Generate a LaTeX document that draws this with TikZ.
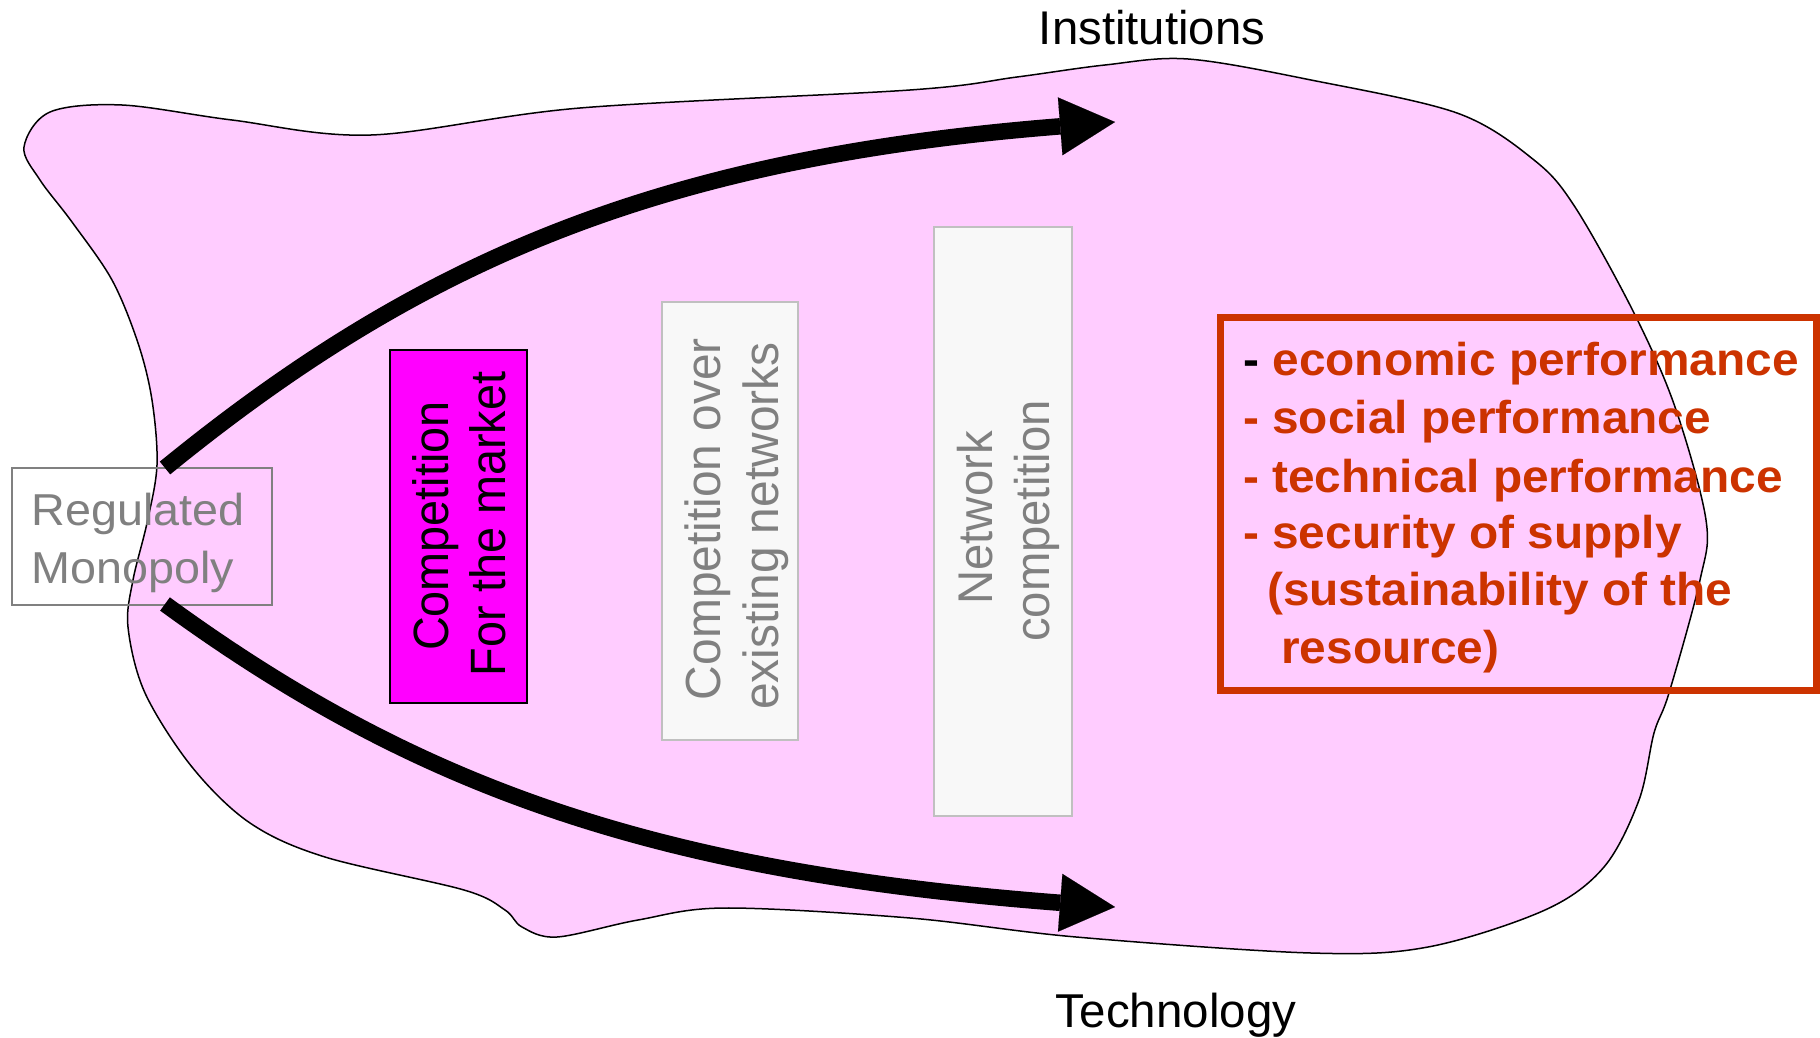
\documentclass[tikz,border=0pt]{standalone}
\usepackage{fontspec}
\usepackage{graphicx}
\setmainfont{Liberation Sans}
\usetikzlibrary{arrows.meta}
\definecolor{blobpink}{HTML}{FFCCFF}
\definecolor{boxmag}{HTML}{FF00FF}
\definecolor{lightfill}{HTML}{F8F8F8}
\definecolor{lightline}{HTML}{C0C0C0}
\definecolor{greytxt}{HTML}{808080}
\definecolor{redtxt}{HTML}{CC3300}
\newcommand{\fsz}[1]{\fontsize{#1}{#1}\selectfont}
\begin{document}
\begin{tikzpicture}[x=1pt,y=-1pt,
  bigarrow/.style={line width=16.5pt, -{Triangle[length=55pt,width=58pt,line width=0.1pt]}},
  plainbox/.style={rectangle, inner sep=0pt, outer sep=0pt},
  vtext/.style={rotate=90, anchor=base, inner sep=0pt},
  htext/.style={anchor=base west, inner sep=0pt},
  ctext/.style={anchor=base, inner sep=0pt},
  redline/.style={htext, text=redtxt, font=\bfseries\fsz{46}},
]
\useasboundingbox (0,0) rectangle (1820,1038);
% blob
\draw[line width=1.5pt, fill=blobpink] plot[smooth cycle, tension=0.55] coordinates {
 (24,147) (50,112) (122,105) (232,120) (371,135) (580,108) (910,90) (1017,77) (1105,65)
 (1188,59) (1311,80) (1457,113) (1534,160) (1575,207) (1634,313) (1675,407) (1706,520)
 (1700,580) (1669,693) (1654,733) (1639,800) (1604,867) (1545,910) (1428,947) (1311,953)
 (1076,937) (910,918) (725,908) (638,920) (557,937) (522,927) (505,910) (464,890)
 (325,857) (250,823) (192,767) (145,693) (128,627) (133,580) (147,523) (157,465)
 (152,400) (138,343) (112,280) (72,222) (40,180)};
% boxes
\node[plainbox, draw=greytxt, line width=2pt, minimum width=260pt, minimum height=137pt] (reg) at (142,536.5) {};
\node[plainbox, draw=black, fill=boxmag, line width=2pt, minimum width=137pt, minimum height=353pt] (magbox) at (458.5,526.5) {};
\node[plainbox, draw=lightline, fill=lightfill, line width=2pt, minimum width=136pt, minimum height=438pt] (overbox) at (730,521) {};
\node[plainbox, draw=lightline, fill=lightfill, line width=2pt, minimum width=138pt, minimum height=589pt] (netbox) at (1003,521.5) {};
\node[plainbox, draw=redtxt, line width=7pt, minimum width=596pt, minimum height=373pt] (perfbox) at (1518,503.5) {};
% arrows
\coordinate (s1) at ([xshift=23pt]reg.north);
\coordinate (s2) at ([xshift=23pt,yshift=1pt]reg.south);
\coordinate (instTip) at (1115,122);
\coordinate (techTip) at (1115,907);
\draw[bigarrow] (s1) .. controls (420,260) and (660,158) .. (instTip);
\draw[bigarrow] (s2) .. controls (420,790) and (660,872) .. (techTip);
% labels
\node[ctext, font=\fsz{47.3}] (inst) at (1152,45) {Institutions};
\node[ctext, font=\fsz{47.5}] (tech) at (1176,1027) {Technology};
\node[htext, text=greytxt, font=\fsz{44.7}] (regA) at (31.5,525) {\scalebox{1.045}[1]{Regulated}};
\node[htext, text=greytxt, font=\fsz{44.7}] (regB) at (31.5,583) {\scalebox{1.045}[1]{Monopoly}};
\node[vtext, font=\fsz{46.8}] (magA) at (448,526) {\scalebox{1}[1.06]{Competition}};
\node[vtext, font=\fsz{46.8}] (magB) at (505,524) {\scalebox{1}[1.06]{For the market}};
\node[vtext, text=greytxt, font=\fsz{47.9}] (overA) at (720,519) {\scalebox{1}[1.03]{Competition over}};
\node[vtext, text=greytxt, font=\fsz{47.9}] (overB) at (778,526) {\scalebox{1}[1.03]{existing networks}};
\node[vtext, text=greytxt, font=\fsz{47.3}] (netA) at (992,518) {\scalebox{1}[1.03]{Network}};
\node[vtext, text=greytxt, font=\fsz{47.3}] (netB) at (1049,521) {\scalebox{1}[1.03]{competition}};
\node[redline] (l1) at (1243,375) {\scalebox{1.04}[1]{\textcolor{black}{-} economic performance}};
\node[redline] (l2) at (1243,433) {\scalebox{1.04}[1]{- social performance}};
\node[redline] (l3) at (1243,492) {\scalebox{1.04}[1]{- technical performance}};
\node[redline] (l4) at (1243,548) {\scalebox{1.04}[1]{- security of supply}};
\node[redline] (l5) at (1267,605) {\scalebox{1.04}[1]{(sustainability of the}};
\node[redline] (l6) at (1281,663) {\scalebox{1.04}[1]{resource)}};
\end{tikzpicture}
\end{document}
